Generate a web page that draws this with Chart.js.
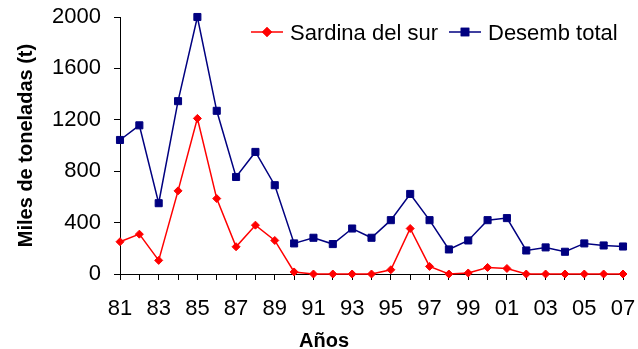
<!DOCTYPE html>
<html lang="es">
<head>
<meta charset="utf-8">
<title>Sardina del sur y desembarque total</title>
<script src="https://cdn.jsdelivr.net/npm/chart.js@4.4.1/dist/chart.umd.min.js"></script>
<style>
  html, body { margin: 0; padding: 0; background: #ffffff; }
  #wrap { width: 638px; height: 349px; }
</style>
</head>
<body>
<div id="wrap"><canvas id="c" width="638" height="349"></canvas></div>
<script>
// Años (1981–2007)
const years = ['81','82','83','84','85','86','87','88','89','90','91','92','93','94',
               '95','96','97','98','99','00','01','02','03','04','05','06','07'];

// Miles de toneladas
const sardinaDelSur = [251, 310, 106, 647, 1211, 587, 212, 380, 261, 16, 0, 0, 0, 0,
                       33, 354, 59, 0, 8, 51, 43, 0, 0, 0, 0, 0, 0];
const desembTotal   = [1043, 1157, 551, 1345, 2000, 1270, 755, 950, 691, 238, 282, 233, 354, 282,
                       419, 623, 419, 191, 261, 419, 435, 183, 207, 173, 238, 222, 214];

const yTicks = [0, 400, 800, 1200, 1600, 2000];

const FONT = "'Liberation Sans', Arial, Helvetica, sans-serif";
const RED = '#ff0000';
const NAVY = '#000080';

// Legend drawn as line + marker samples next to each series name
const lineLegend = {
  id: 'lineLegend',
  afterDraw(chart) {
    const ctx = chart.ctx;
    const items = [
      { label: 'Sardina del sur', color: RED,  style: 'rectRot', radius: 4, x0: 251, text: 290 },
      { label: 'Desemb total',    color: NAVY, style: 'rect',    radius: 5, x0: 449, text: 488 }
    ];
    const y = 32;
    ctx.save();
    for (const it of items) {
      ctx.strokeStyle = it.color;
      ctx.lineWidth = 1.5;
      ctx.beginPath();
      ctx.moveTo(it.x0, y);
      ctx.lineTo(it.x0 + 32, y);
      ctx.stroke();
      ctx.fillStyle = it.color;
      Chart.helpers.drawPoint(ctx, { pointStyle: it.style, radius: it.radius, rotation: 0, borderWidth: 1 }, it.x0 + 16, y);
      ctx.fill();
      ctx.stroke();
      ctx.fillStyle = '#000000';
      ctx.font = '22px ' + FONT;
      ctx.textBaseline = 'alphabetic';
      ctx.textAlign = 'left';
      ctx.fillText(it.label, it.text, 40);
    }
    ctx.restore();
  }
};

new Chart(document.getElementById('c'), {
  type: 'line',
  data: {
    labels: years,
    datasets: [
      {
        label: 'Sardina del sur',
        data: sardinaDelSur,
        borderColor: RED,
        backgroundColor: RED,
        borderWidth: 1.5,
        pointStyle: 'rectRot',
        pointRadius: 4,
        pointBorderWidth: 1,
        pointBackgroundColor: RED,
        pointBorderColor: RED,
        tension: 0,
        clip: false
      },
      {
        label: 'Desemb total',
        data: desembTotal,
        borderColor: NAVY,
        backgroundColor: NAVY,
        borderWidth: 1.5,
        pointStyle: 'rect',
        pointRadius: 5,
        pointBorderWidth: 1,
        pointBackgroundColor: NAVY,
        pointBorderColor: NAVY,
        tension: 0,
        clip: false
      }
    ]
  },
  options: {
    responsive: false,
    animation: false,
    events: [],
    layout: { padding: { left: 10, right: 0, top: 17, bottom: 0 } },
    plugins: {
      legend: { display: false },
      tooltip: { enabled: false },
      title: {
        display: true,
        position: 'bottom',
        text: 'Años',
        color: '#000000',
        font: { family: FONT, size: 20, weight: 'bold', lineHeight: 0.8 },
        padding: 0
      }
    },
    scales: {
      x: {
        type: 'category',
        offset: false,
        grid: { display: true, drawOnChartArea: false, drawTicks: true, tickLength: 6, color: '#000000', lineWidth: 1, offset: false },
        border: { display: true, color: '#000000', width: 1 },
        ticks: {
          autoSkip: false,
          maxRotation: 0,
          minRotation: 0,
          padding: 16,
          color: '#000000',
          font: { family: FONT, size: 22 },
          callback: function (value, index) {
            return index % 2 === 0 ? years[index] : '';
          }
        },
        afterFit(scale) {
          scale.height = 59;
          scale.paddingLeft = 0;
          scale.paddingRight = 15;
        }
      },
      y: {
        min: 0,
        max: 2000,
        afterBuildTicks(scale) {
          scale.ticks = yTicks.map(v => ({ value: v }));
        },
        grid: { display: true, drawOnChartArea: false, drawTicks: true, tickLength: 6, color: '#000000', lineWidth: 1 },
        border: { display: true, color: '#000000', width: 1 },
        ticks: {
          padding: 13,
          color: '#000000',
          font: { family: FONT, size: 22 },
          callback: function (value) {
            return String(value);
          }
        },
        title: {
          display: true,
          text: 'Miles de toneladas (t)',
          color: '#000000',
          font: { family: FONT, size: 20, weight: 'bold' },
          padding: 4
        },
        afterFit(scale) {
          scale.width = 110;
          scale.paddingTop = 0;
          scale.paddingBottom = 0;
        }
      }
    }
  },
  plugins: [lineLegend]
});
</script>
</body>
</html>
